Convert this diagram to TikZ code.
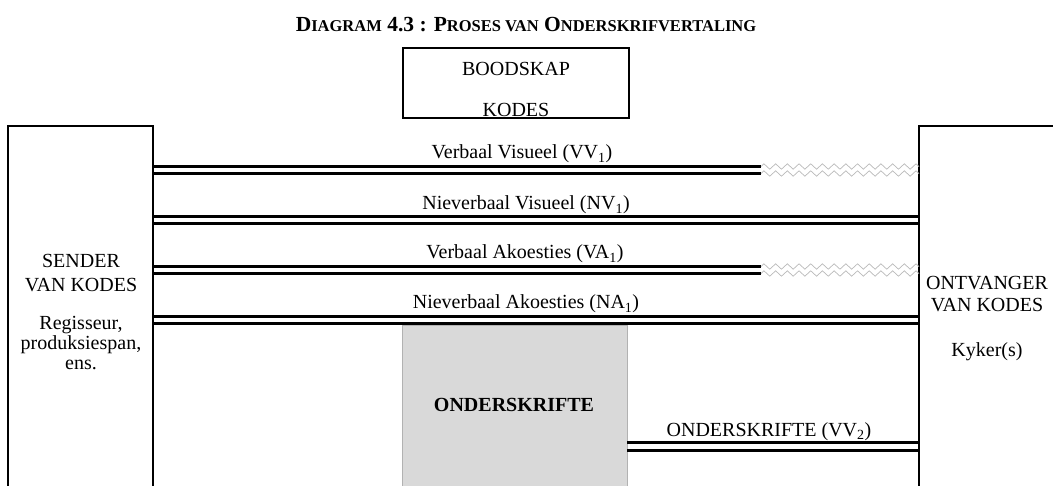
\documentclass[tikz,border=0pt]{standalone}
\usepackage{fontspec}
\setmainfont{Liberation Serif}
\usetikzlibrary{decorations.pathmorphing}
\definecolor{subgray}{RGB}{217,217,217}
\begin{document}
\begin{tikzpicture}[x=1pt,y=-1pt,
  box/.style={draw, line width=2.5pt, inner sep=0pt, outer sep=0pt, anchor=north west},
  dline/.style={line width=3pt},
  zz/.style={draw=gray!55, line width=0.7pt, decorate, decoration={zigzag, segment length=11.7pt, amplitude=2.7pt}},
  lbl/.style={font=\fontsize{20}{23}\selectfont, inner sep=0pt, anchor=base},
  ttl/.style={font=\fontsize{21.5}{24}\selectfont\bfseries, inner sep=0pt, anchor=base},
]
\useasboundingbox (0,0) rectangle (1053,486);
\clip (0,0) rectangle (1053,486);

% title
\node[ttl] (title) at (526,32) {D{\fontsize{16.5}{18}\selectfont IAGRAM} 4.3 : P{\fontsize{16.5}{18}\selectfont ROSES VAN} O{\fontsize{16.5}{18}\selectfont NDERSKRIFVERTALING}};

% boxes
\node[box, line width=2pt, minimum width=226pt, minimum height=70pt] (msg) at (403,48) {};
\node[box, minimum width=145pt, minimum height=420pt] (sender) at (8,126) {};
\node[box, minimum width=200pt, minimum height=420pt] (receiver) at (919,126) {};
\node[box, draw=gray!60, line width=0.8pt, fill=subgray, minimum width=225pt, minimum height=220pt] (subs) at (402,325) {};

% texts
\node[lbl] (t1) at (516,76) {BOODSKAP};
\node[lbl] (t2) at (516,117) {KODES};
\node[lbl] (s1) at (81,268) {SENDER};
\node[lbl] (s2) at (81,292) {VAN KODES};
\node[lbl] (s3) at (81,330) {Regisseur,};
\node[lbl] (s4) at (81,350) {produksiespan,};
\node[lbl] (s5) at (81,370) {ens.};
\node[lbl] (r1) at (987,290) {ONTVANGER};
\node[lbl] (r2) at (987,312) {VAN KODES};
\node[lbl] (r3) at (987,357) {Kyker(s)};
\node[lbl, font=\fontsize{20}{23}\selectfont\bfseries] (o1) at (514,412) {ONDERSKRIFTE};

% channel labels
\node[lbl] (c1) at (522,159) {Verbaal Visueel (VV\textsubscript{1})};
\node[lbl] (c2) at (526,210) {Nieverbaal Visueel (NV\textsubscript{1})};
\node[lbl] (c3) at (525,259) {Verbaal Akoesties (VA\textsubscript{1})};
\node[lbl] (c4) at (526,309) {Nieverbaal Akoesties (NA\textsubscript{1})};
\node[lbl] (c5) at (769,436) {ONDERSKRIFTE (VV\textsubscript{2})};

% coordinates for channel heights
\coordinate (a1) at (0,166.5);  \coordinate (a2) at (0,173.5);
\coordinate (b1) at (0,217);    \coordinate (b2) at (0,224);
\coordinate (d1) at (0,266.5);  \coordinate (d2) at (0,273.5);
\coordinate (e1) at (0,316.5);  \coordinate (e2) at (0,323.5);
\coordinate (f1) at (0,442.5);  \coordinate (f2) at (0,450);
\coordinate (brk) at (761,0);

% VV1
\draw[dline] (sender.east |- a1) -- (brk |- a1);
\draw[dline] (sender.east |- a2) -- (brk |- a2);
\draw[zz] (brk |- a1) -- (receiver.west |- a1);
\draw[zz] (brk |- a2) -- (receiver.west |- a2);
% NV1
\draw[dline] (sender.east |- b1) -- (receiver.west |- b1);
\draw[dline] (sender.east |- b2) -- (receiver.west |- b2);
% VA1
\draw[dline] (sender.east |- d1) -- (brk |- d1);
\draw[dline] (sender.east |- d2) -- (brk |- d2);
\draw[zz] (brk |- d1) -- (receiver.west |- d1);
\draw[zz] (brk |- d2) -- (receiver.west |- d2);
% NA1
\draw[dline] (sender.east |- e1) -- (receiver.west |- e1);
\draw[dline] (sender.east |- e2) -- (receiver.west |- e2);
% VV2
\draw[dline] (subs.east |- f1) -- (receiver.west |- f1);
\draw[dline] (subs.east |- f2) -- (receiver.west |- f2);
\end{tikzpicture}
\end{document}
